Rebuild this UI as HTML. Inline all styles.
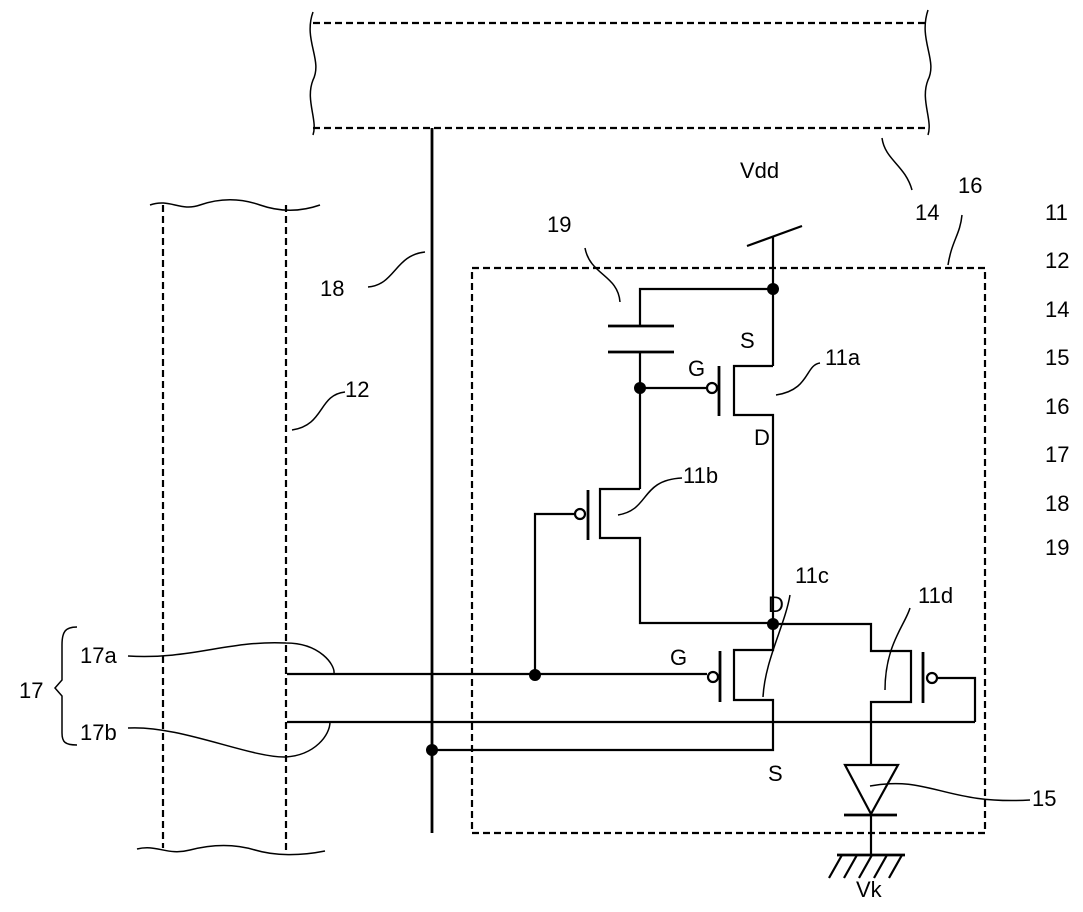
<!DOCTYPE html>
<html><head><meta charset="utf-8"><style>
html,body{margin:0;padding:0;background:#fff;}
svg{display:block;}
text{font-family:"Liberation Sans",sans-serif;font-size:22px;fill:#000;}
</style></head><body>
<svg width="1083" height="912" viewBox="0 0 1083 912" xmlns="http://www.w3.org/2000/svg">
<g fill="none" stroke="#000" stroke-width="2.2">
<g stroke-dasharray="7,4">
<line x1="313" y1="23" x2="928" y2="23"/>
<line x1="313" y1="128" x2="928" y2="128"/>
<line x1="163" y1="205" x2="163" y2="848"/>
<line x1="286" y1="205" x2="286" y2="850"/>
<rect x="472" y="268" width="513" height="565"/>
</g>
<path d="M313 12 C303 40 323 60 313 80 C305 100 318 120 313 135" stroke-width="1.5"/>
<path d="M928 10 C918 40 938 60 928 80 C920 100 933 120 928 135" stroke-width="1.5"/>
<path d="M150 205 C170 198 180 212 200 205 S240 198 260 205 S300 212 320 205" stroke-width="1.5"/>
<path d="M137 849 C157 844 167 856 190 850 S235 844 255 850 S300 856 325 851" stroke-width="1.5"/>
<line x1="432" y1="128" x2="432" y2="833" stroke-width="2.8"/>
<line x1="747" y1="246" x2="802" y2="226"/>
<line x1="773" y1="236" x2="773" y2="366"/>
<polyline points="773,289 640,289 640,326"/>
<line x1="608" y1="326" x2="674" y2="326" stroke-width="2.8"/>
<line x1="608" y1="352" x2="674" y2="352" stroke-width="2.8"/>
<line x1="640" y1="352" x2="640" y2="489"/>
<line x1="640" y1="388" x2="707" y2="388"/>
<line x1="719" y1="366" x2="719" y2="416" stroke-width="2.8"/>
<polyline points="773,366 734,366 734,415 773,415 773,625"/>
<polyline points="640,489 600,489 600,538 640,538 640,623 773,623"/>
<line x1="588" y1="490" x2="588" y2="540" stroke-width="2.8"/>
<polyline points="575,514 535,514 535,675"/>
<polyline points="773,623 773,650 734,650 734,700 773,700 773,750 432,750"/>
<line x1="720" y1="651" x2="720" y2="702" stroke-width="2.8"/>
<line x1="287" y1="674" x2="707" y2="674"/>
<line x1="287" y1="722" x2="975" y2="722"/>
<polyline points="975,722 975,678 937,678"/>
<polyline points="773,624 871,624 871,651 911,651 911,702 871,702 871,765"/>
<line x1="923" y1="652" x2="923" y2="703" stroke-width="2.8"/>
<polygon points="845,765 898,765 871,814"/>
<line x1="844" y1="815" x2="897" y2="815" stroke-width="2.8"/>
<line x1="871" y1="815" x2="871" y2="855"/>
<line x1="837" y1="855" x2="905" y2="855" stroke-width="2.8"/>
<path d="M842 855 L829 878 M857 855 L844 878 M872 855 L859 878 M887 855 L874 878 M902 855 L889 878"/>
<circle cx="712" cy="388" r="5" fill="#fff"/>
<circle cx="580" cy="514" r="5" fill="#fff"/>
<circle cx="713" cy="677" r="5" fill="#fff"/>
<circle cx="932" cy="678" r="5" fill="#fff"/>
<path d="M882 138 C885 160 905 165 912 190" stroke-width="1.5"/>
<path d="M948 265 C952 240 960 235 962 215" stroke-width="1.5"/>
<path d="M368 287 C395 285 395 255 425 252" stroke-width="1.5"/>
<path d="M292 430 C325 425 318 395 345 392" stroke-width="1.5"/>
<path d="M620 302 C618 275 590 275 585 248" stroke-width="1.5"/>
<path d="M776 395 C810 390 805 365 820 363" stroke-width="1.5"/>
<path d="M618 515 C650 510 640 480 682 478" stroke-width="1.5"/>
<path d="M763 697 C765 660 785 625 790 595" stroke-width="1.5"/>
<path d="M885 690 C885 645 905 625 910 608" stroke-width="1.5"/>
<path d="M870 786 C930 775 945 805 1030 800" stroke-width="1.5"/>
<path d="M128 656 C190 660 230 640 286 643 C320 643 335 665 334 673" stroke-width="1.5"/>
<path d="M128 728 C180 725 250 758 286 757 C315 755 330 735 330 722" stroke-width="1.5"/>
<path d="M77 627 C65 627 62 632 62 645 L62 680 L55 688 L62 696 L62 733 C62 742 65 745 77 745" stroke-width="1.5"/>
</g>
<g fill="#000">
<circle cx="773" cy="289" r="6"/>
<circle cx="640" cy="388" r="6"/>
<circle cx="773" cy="624" r="6"/>
<circle cx="535" cy="675" r="6"/>
<circle cx="432" cy="750" r="6"/>
</g>
<text x="740" y="178">Vdd</text>
<text x="915" y="220">14</text>
<text x="958" y="193">16</text>
<text x="547" y="232">19</text>
<text x="320" y="296">18</text>
<text x="345" y="397">12</text>
<text x="740" y="348">S</text>
<text x="688" y="376">G</text>
<text x="825" y="365">11a</text>
<text x="754" y="445">D</text>
<text x="683" y="483">11b</text>
<text x="795" y="583">11c</text>
<text x="768" y="612">D</text>
<text x="918" y="603">11d</text>
<text x="670" y="665">G</text>
<text x="768" y="781">S</text>
<text x="1032" y="806">15</text>
<text x="856" y="897">Vk</text>
<text x="80" y="663">17a</text>
<text x="80" y="740">17b</text>
<text x="19" y="698">17</text>
<text x="1045" y="220">11</text>
<text x="1045" y="268">12</text>
<text x="1045" y="317">14</text>
<text x="1045" y="365">15</text>
<text x="1045" y="414">16</text>
<text x="1045" y="462">17</text>
<text x="1045" y="511">18</text>
<text x="1045" y="555">19</text>
</svg>
</body></html>
